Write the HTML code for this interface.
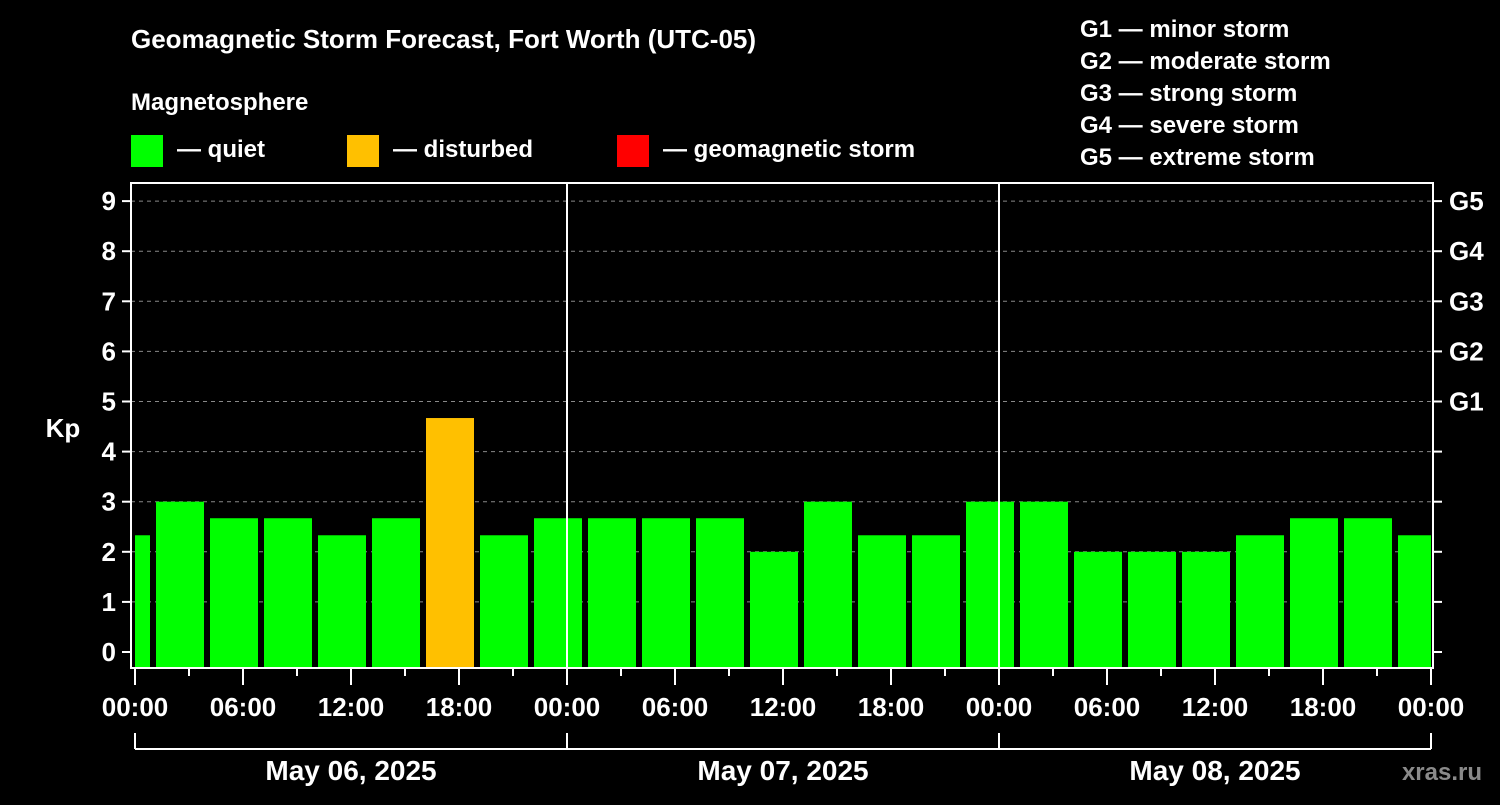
<!DOCTYPE html>
<html><head><meta charset="utf-8"><style>
body{margin:0;background:#000;width:1500px;height:800px;overflow:hidden}
text{font-family:"Liberation Sans",sans-serif;font-weight:bold;fill:#fff}
</style></head><body>
<svg id="chart" width="1500" height="800" xmlns="http://www.w3.org/2000/svg">
<rect width="1500" height="800" fill="#000"/>
<text x="131" y="48" font-size="26">Geomagnetic Storm Forecast, Fort Worth (UTC-05)</text>
<text x="131" y="110" font-size="24">Magnetosphere</text>
<g><rect x="131" y="135" width="32" height="32" fill="#00ff00"/><text x="177" y="157" font-size="24">— quiet</text></g>
<g><rect x="347" y="135" width="32" height="32" fill="#ffc000"/><text x="393" y="157" font-size="24">— disturbed</text></g>
<g><rect x="617" y="135" width="32" height="32" fill="#ff0000"/><text x="663" y="157" font-size="24">— geomagnetic storm</text></g>
<g font-size="24">
<text x="1080" y="37">G1 — minor storm</text>
<text x="1080" y="69">G2 — moderate storm</text>
<text x="1080" y="101">G3 — strong storm</text>
<text x="1080" y="133">G4 — severe storm</text>
<text x="1080" y="165">G5 — extreme storm</text>
</g>
<g id="grid"></g><g id="bars"></g><g id="axes"></g>
<text x="63" y="437" font-size="26" text-anchor="middle">Kp</text>
<text x="1482" y="780" font-size="24" text-anchor="end" fill="#888" style="fill:#8a8a8a">xras.ru</text>
</svg>
<script>
const kpValues=[2.33,3,2.67,2.67,2.33,2.67,4.67,2.33,2.67,2.67,2.67,2.67,2,3,2.33,2.33,3,3,2,2,2,2.33,2.67,2.67,2.33];
const barHours=[-0.5,2.5,5.5,8.5,11.5,14.5,17.5,20.5,23.5,26.5,29.5,32.5,35.5,38.5,41.5,44.5,47.5,50.5,53.5,56.5,59.5,62.5,65.5,68.5,71.5];
const yTicks=[0,1,2,3,4,5,6,7,8,9];
const gLabels=["","","","","","G1","G2","G3","G4","G5"];
const xTickLabels=["00:00","06:00","12:00","18:00","00:00","06:00","12:00","18:00","00:00","06:00","12:00","18:00","00:00"];
const dayLabels=["May 06, 2025","May 07, 2025","May 08, 2025"];
const NS="http://www.w3.org/2000/svg";
const L=131,R=1433,T=183,B=668,X0=135,PXH=18;
const x=h=>X0+h*PXH, y=v=>652-v*50.1;
function mk(p,t,a){const e=document.createElementNS(NS,t);for(const k in a)e.setAttribute(k,a[k]);p.appendChild(e);return e;}
const grid=document.getElementById('grid'),bars=document.getElementById('bars'),axes=document.getElementById('axes');
yTicks.forEach(v=>{if(v>0){const l=mk(grid,'line',{x1:L,x2:R,y1:y(v),y2:y(v),stroke:'#888','stroke-dasharray':'4,4','stroke-width':1});

}});
kpValues.forEach((v,i)=>{const c=x(barHours[i]);let x1=Math.max(c-24,X0),x2=Math.min(c+24,x(72));
const r=mk(bars,'rect',{x:x1,y:y(v),width:x2-x1,height:B-y(v),fill:v>=5?'#ff0000':v>=4?'#ffc000':'#00ff00'});

});
mk(axes,'rect',{x:L,y:T,width:R-L,height:B-T,fill:'none',stroke:'#fff','stroke-width':2});
[24,48].forEach(h=>mk(axes,'line',{x1:x(h),x2:x(h),y1:T,y2:B,stroke:'#fff','stroke-width':2}));
yTicks.forEach((v,i)=>{mk(axes,'line',{x1:L-9,x2:L,y1:y(v),y2:y(v),stroke:'#fff','stroke-width':2});
mk(axes,'line',{x1:R,x2:R+9,y1:y(v),y2:y(v),stroke:'#fff','stroke-width':2});
const t=mk(axes,'text',{x:116,y:y(v)+9,'font-size':26,'text-anchor':'end'});t.textContent=v;


if(gLabels[i]){const g=mk(axes,'text',{x:1449,y:y(v)+9,'font-size':26});g.textContent=gLabels[i];

}});
for(let h=0;h<=72;h+=3){const maj=h%6===0;mk(axes,'line',{x1:x(h),x2:x(h),y1:B,y2:B+(maj?17:8),stroke:'#fff','stroke-width':2});}
xTickLabels.forEach((s,i)=>{const t=mk(axes,'text',{x:x(i*6),y:716,'font-size':26,'text-anchor':'middle'});t.textContent=s;

});
mk(axes,'line',{x1:x(0),x2:x(72),y1:749,y2:749,stroke:'#fff','stroke-width':2});
[0,24,48,72].forEach(h=>mk(axes,'line',{x1:x(h),x2:x(h),y1:733,y2:749,stroke:'#fff','stroke-width':2}));
dayLabels.forEach((s,i)=>{const t=mk(axes,'text',{x:x(i*24+12),y:780,'font-size':28,'text-anchor':'middle'});t.textContent=s;

});
</script>
</body></html>
